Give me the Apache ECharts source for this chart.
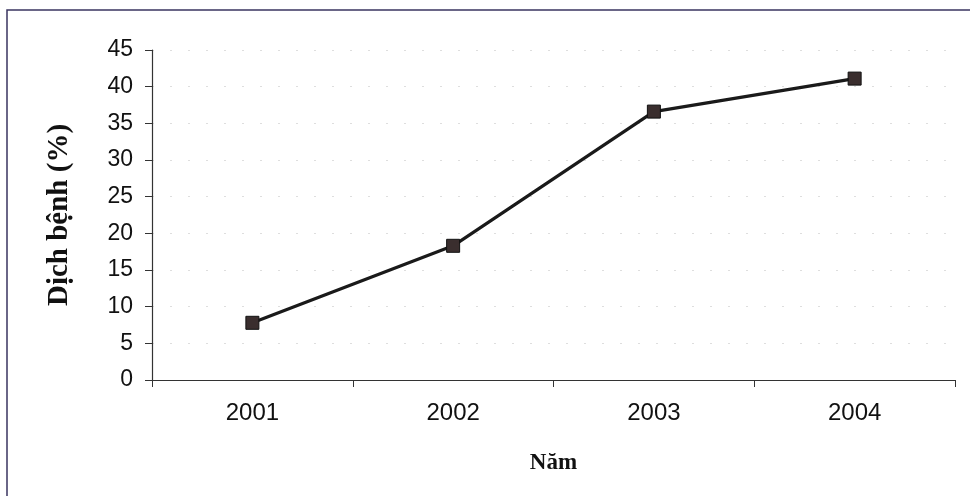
<!DOCTYPE html>
<html>
<head>
<meta charset="utf-8">
<script src="https://cdn.jsdelivr.net/npm/echarts@6/dist/echarts.min.js"></script>
<style>html,body{margin:0;padding:0;background:#fff;}#c{width:970px;height:496px;}</style>
</head>
<body>
<div id="c"></div>
<script>
const categories = ['2001', '2002', '2003', '2004'];
const values = [7.8, 18.3, 36.6, 41.1];
const yTicks = { min: 0, max: 45, interval: 5 };

const chart = echarts.init(document.getElementById('c'), null, { renderer: 'canvas' });
chart.setOption({
  backgroundColor: '#fff',
  animation: false,
  graphic: [{
    type: 'polyline',
    shape: { points: [[7, 500], [7, 10], [975, 10]] },
    style: { stroke: '#3a3560', lineWidth: 1.5, fill: null }
  }],
  grid: { left: 152, right: 15, top: 50, bottom: 116 },
  xAxis: {
    type: 'category',
    data: categories,
    boundaryGap: true,
    name: 'Năm',
    nameLocation: 'middle',
    nameGap: 72,
    nameTextStyle: { fontFamily: 'Liberation Serif', fontWeight: 'bold', fontSize: 23, color: '#111' },
    axisLine: { lineStyle: { color: '#333', width: 1.2 } },
    axisTick: { show: true, inside: false, length: 7, lineStyle: { color: '#333' } },
    axisLabel: { fontFamily: 'Liberation Sans', fontSize: 24, color: '#111', margin: 21 },
    splitLine: { show: false }
  },
  yAxis: {
    type: 'value',
    min: yTicks.min, max: yTicks.max, interval: yTicks.interval,
    name: 'Dịch bệnh (%)',
    nameLocation: 'middle',
    nameGap: 78,
    nameTextStyle: { fontFamily: 'Liberation Serif', fontWeight: 'bold', fontSize: 29, color: '#111' },
    axisLine: { show: true, lineStyle: { color: '#333', width: 1.2 } },
    axisTick: { show: true, inside: false, length: 7, lineStyle: { color: '#333' } },
    axisLabel: { fontFamily: 'Liberation Sans', fontSize: 23, color: '#111', margin: 19 },
    splitLine: { show: true, lineStyle: { color: '#dedede', type: [2, 16], width: 1 } }
  },
  series: [{
    type: 'line',
    data: values,
    symbol: 'rect',
    symbolSize: 13,
    lineStyle: { color: '#1a1a1a', width: 3.2 },
    itemStyle: { color: '#3a2e2e', borderColor: '#111', borderWidth: 1 }
  }]
});
</script>
</body>
</html>
